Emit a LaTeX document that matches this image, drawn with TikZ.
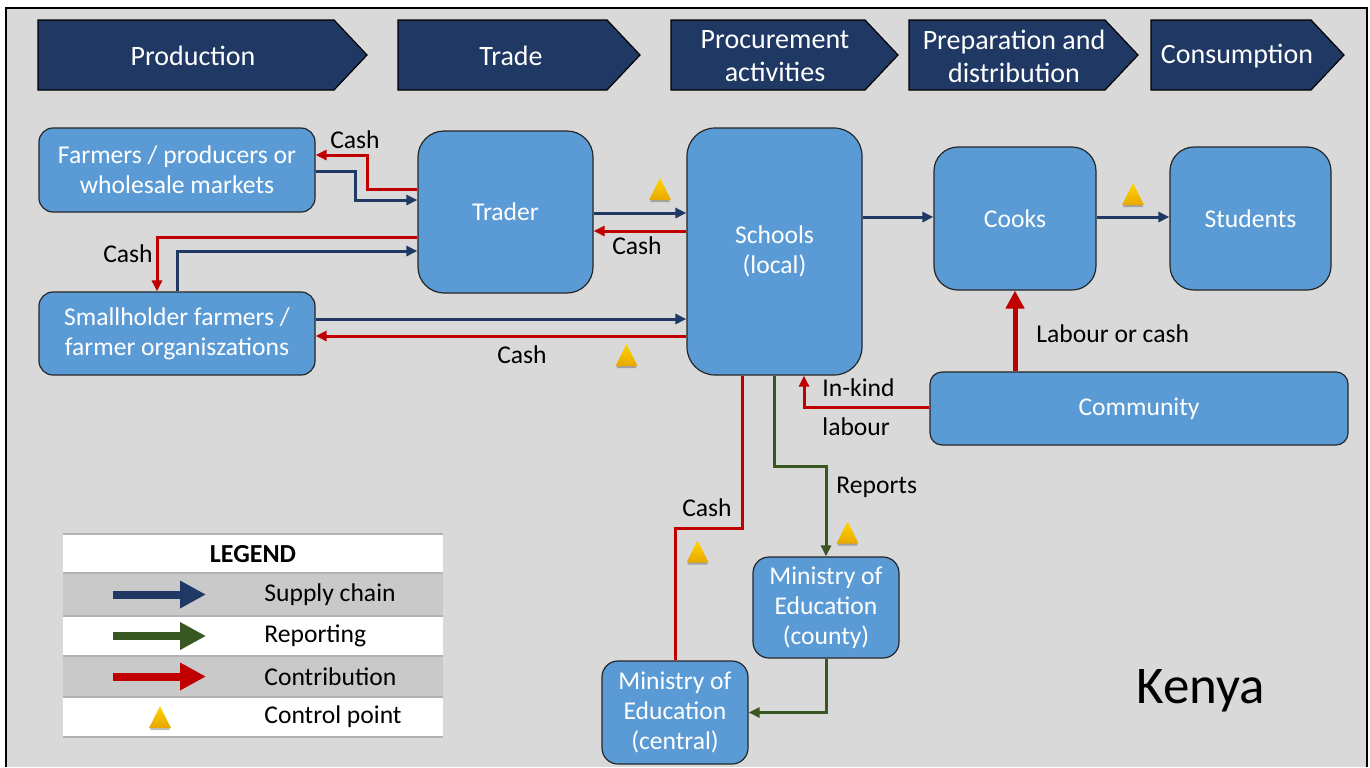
\documentclass[tikz,border=0pt]{standalone}
\usepackage{fontspec}
\setmainfont{Carlito}
\usetikzlibrary{arrows.meta}

\definecolor{panelgray}{HTML}{D9D9D9}
\definecolor{phaseblue}{HTML}{1F3864}
\definecolor{boxblue}{HTML}{5B9BD5}
\definecolor{supplyblue}{HTML}{1F3864}
\definecolor{cashred}{HTML}{C00000}
\definecolor{reportgreen}{HTML}{385723}
\definecolor{rowgray}{HTML}{C9C9C9}
\definecolor{goldtop}{HTML}{FFD400}
\definecolor{goldbot}{HTML}{E8A800}

\tikzset{>={Triangle[length=5.5pt,width=5pt]}}
\tikzset{
  actor/.style={draw=black!85, line width=0.6pt, fill=boxblue, text=white,
    align=center, inner sep=2pt, font=\fontsize{12.8}{15}\selectfont},
  phase/.style={text=white, align=center, inner sep=0pt,
    font=\fontsize{14}{16.5}\selectfont},
  lbl/.style={inner sep=1pt, font=\fontsize{12.8}{15}\selectfont},
  supply/.style={->, supplyblue, line width=1.5pt},
  cash/.style={->, cashred, line width=1.5pt},
  report/.style={->, reportgreen, line width=1.5pt},
  ctrl/.pic={
    \fill[black, opacity=0.25] (-10,13) -- (10,13) -- (0,-8) -- cycle;
    \shade[top color=goldtop, bottom color=goldbot] (-11,11) -- (11,11) -- (0,-11) -- cycle;
  }
}

\begin{document}
\begin{tikzpicture}[x=0.5pt, y=-0.5pt]
  \useasboundingbox (0,0) rectangle (1370,767);
  \fill[panelgray] (6,8) rectangle (1367,767);
  \draw[line width=1pt] (6,767) -- (6,8) -- (1367,8) -- (1367,767);

  % phases along the top
  \foreach \xa/\xb/\xt/\txt [count=\i] in {38/334/193/Production, 398/607/511/Trade,
      671/865/775/{Procurement\\activities}, 909/1105/1014/{Preparation and\\distribution},
      1151/1311/1237/Consumption}
  {
    \draw[fill=phaseblue, line width=0.6pt] (\xa,20) -- (\xb,20) -- ({\xb+33},55) -- (\xb,90) -- (\xa,90) -- cycle;
    \node[phase] (phase\i) at (\xt,56) {\txt};
  }

  % actors
  \node[actor, rounded corners=7pt, minimum width=138pt, minimum height=42pt] (farmers) at (177,170) {Farmers / producers or\\wholesale markets};
  \node[actor, rounded corners=7pt, minimum width=138pt, minimum height=41.5pt] (smallholder) at (177,333.5) {Smallholder farmers /\\farmer organiszations};
  \node[actor, rounded corners=13pt, minimum width=87.5pt, minimum height=81pt] (trader) at (505.5,212) {Trader};
  \node[actor, rounded corners=14pt, minimum width=87.5pt, minimum height=123.5pt] (schools) at (774.5,251.5) {Schools\\(local)};
  \node[actor, rounded corners=12pt, minimum width=81pt, minimum height=71.5pt] (cooks) at (1015,218.5) {Cooks};
  \node[actor, rounded corners=12pt, minimum width=80.5pt, minimum height=71.5pt] (students) at (1250.5,218.5) {Students};
  \node[actor, rounded corners=6pt, minimum width=209pt, minimum height=36.5pt] (community) at (1139,408.5) {Community};
  \node[actor, rounded corners=8pt, minimum width=73pt, minimum height=50.5pt] (county) at (826,607.5) {Ministry of\\Education\\(county)};
  \node[actor, rounded corners=8pt, minimum width=73pt, minimum height=51.5pt] (central) at (675,712.5) {Ministry of\\Education\\(central)};

  % flows
  \draw[cash] (trader.west |- 0,189) -| (367,155) -- (farmers.east |- 0,155);
  \draw[supply] (farmers.east |- 0,171) -| (355,200) -- (trader.west |- 0,200);
  \draw[cash] (trader.west |- 0,237) -| (smallholder.north -| 157,0);
  \draw[supply] (smallholder.north -| 177,0) |- (trader.west |- 0,251);
  \draw[supply] (trader.east |- 0,213) -- (schools.west |- 0,213);
  \draw[cash] (schools.west |- 0,231) -- (trader.east |- 0,231);
  \draw[supply] (smallholder.east |- 0,319) -- (schools.west |- 0,319);
  \draw[cash] (schools.west |- 0,336) -- (smallholder.east |- 0,336);
  \draw[supply] (schools.east |- 0,217) -- (cooks.west |- 0,217);
  \draw[supply] (cooks.east |- 0,217) -- (students.west |- 0,217);
  \draw[cash, line width=2.5pt, -{Triangle[length=9pt,width=9pt]}] (community.north -| cooks) -- (cooks.south);
  \draw[cash] (community.west |- 0,407) -| (schools.south -| 804,0);
  \draw[cash, -] (schools.south -| 742,0) |- (675,528) -- (central.north -| 675,0);
  \draw[report] (schools.south -| 774,0) |- (826,466) -- (county.north);
  \draw[report] (county.south) |- (central.east);

  % flow labels
  \node[lbl] (cash1) at (355,140) {Cash};
  \node[lbl] (cash2) at (128,254) {Cash};
  \node[lbl] (cash3) at (637,246) {Cash};
  \node[lbl] (cash4) at (522,355) {Cash};
  \node[lbl] (cash5) at (707,508) {Cash};
  \node[lbl, anchor=west] (labour) at (1034,334) {Labour or cash};
  \node[lbl, anchor=west] (inkind1) at (820,388) {In-kind};
  \node[lbl, anchor=west] (inkind2) at (820,427) {labour};
  \node[lbl, anchor=west] (reports) at (834,487) {Reports};

  % control points
  \foreach \cx/\cy in {660/189, 626.5/355, 1133/194, 697.5/551.5, 847.5/532.5}
    \pic at (\cx,\cy) {ctrl};

  % legend
  \fill[white] (63,534) rectangle (443,737);
  \fill[rowgray] (63,573) rectangle (443,616);
  \fill[rowgray] (63,656) rectangle (443,697);
  \foreach \y in {534,573,616,656,697,737}
    \draw[black!30, line width=0.6pt] (63,\y) -- (443,\y);
  \node[lbl, font=\fontsize{13}{15}\selectfont\bfseries] (legend) at (253,554) {LEGEND};
  \foreach \y/\c/\txt [count=\i] in {594.5/supplyblue/Supply chain, 636/reportgreen/Reporting,
      676.5/cashred/Contribution}
  {
    \draw[\c, line width=4pt, -{Triangle[length=13pt,width=13pt]}] (113,\y) -- (206,\y);
    \node[lbl, anchor=west] (key\i) at (262,\y) {\txt};
  }
  \pic at (160,717) {ctrl};
  \node[lbl, anchor=west] (key4) at (262,717) {Control point};

  \node[font=\fontsize{26.5}{30}\selectfont, anchor=base] (country) at (1201,703) {Kenya};
\end{tikzpicture}
\end{document}
